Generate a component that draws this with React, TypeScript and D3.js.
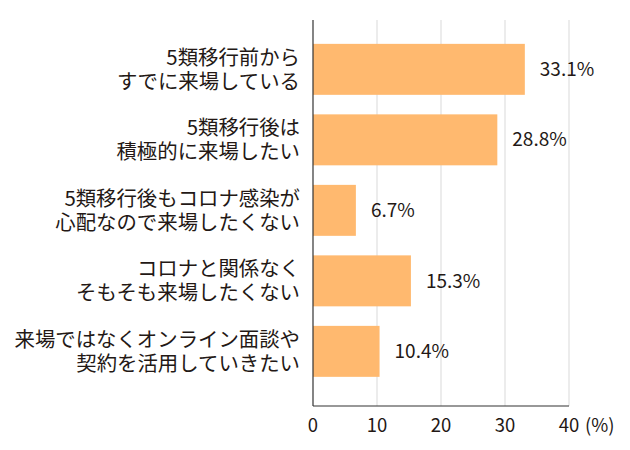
import React, { useMemo } from "react";
import * as d3 from "d3";

const WIDTH = 630;
const HEIGHT = 450;
const MARGIN = { top: 20, right: 61, bottom: 44, left: 313 };

const categories = ["c1", "c2", "c3", "c4", "c5"];
const labelLines = [
  ["5類移行前から", "すでに来場している"],
  ["5類移行後は", "積極的に来場したい"],
  ["5類移行後もコロナ感染が", "心配なので来場したくない"],
  ["コロナと関係なく", "そもそも来場したくない"],
  ["来場ではなくオンライン面談や", "契約を活用していきたい"],
];
const values = [33.1, 28.8, 6.7, 15.3, 10.4];
const xTicks = [0, 10, 20, 30, 40];

const FONT = "'Noto Sans CJK JP', 'Noto Sans', sans-serif";
const TEXT = "#231815";

const App = () => {
  const boundsWidth = WIDTH - MARGIN.left - MARGIN.right;
  const boundsHeight = HEIGHT - MARGIN.top - MARGIN.bottom;

  const xScale = useMemo(
    () => d3.scaleLinear().domain([0, 40]).range([0, boundsWidth]),
    [boundsWidth]
  );
  const yScale = useMemo(
    () =>
      d3
        .scaleBand()
        .domain(categories)
        .range([0, boundsHeight])
        .paddingInner(0.277)
        .paddingOuter(0.376)
        .align(0.45),
    [boundsHeight]
  );

  return (
    <svg width={WIDTH} height={HEIGHT} style={{ position: "absolute", left: 0, top: 0 }}>
      <rect width={WIDTH} height={HEIGHT} fill="#fff" />
      <g transform={`translate(${MARGIN.left},${MARGIN.top})`}>
        {/* grid */}
        {xTicks.slice(1).map((t) => (
          <line
            key={t}
            x1={xScale(t)}
            x2={xScale(t)}
            y1={0}
            y2={boundsHeight}
            stroke="#d9d9d9"
            strokeWidth={1}
          />
        ))}
        {/* bars */}
        {categories.map((c, i) => (
          <rect
            key={c}
            x={0}
            y={yScale(c)}
            width={xScale(values[i])}
            height={yScale.bandwidth()}
            fill="#FFB96F"
          />
        ))}
        {/* value labels */}
        {categories.map((c, i) => (
          <text
            key={c}
            x={xScale(values[i]) + 15}
            y={(yScale(c) || 0) + yScale.bandwidth() / 2}
            dy="0.35em"
            fontFamily={FONT}
            fontSize={19}
            fill={TEXT}
          >
            {values[i].toFixed(1)}%
          </text>
        ))}
        {/* category labels, two lines each */}
        {categories.map((c, i) => {
          const cy = (yScale(c) || 0) + yScale.bandwidth() / 2;
          return (
            <g key={c}>
              <text
                x={-13}
                y={cy - 12}
                dy="0.36em"
                textAnchor="end"
                fontFamily={FONT}
                fontSize={20.4}
                fill={TEXT}
              >
                {labelLines[i][0]}
              </text>
              <text
                x={-13}
                y={cy + 12}
                dy="0.36em"
                textAnchor="end"
                fontFamily={FONT}
                fontSize={20.4}
                fill={TEXT}
              >
                {labelLines[i][1]}
              </text>
            </g>
          );
        })}
        {/* axes */}
        <line x1={0} x2={0} y1={0} y2={boundsHeight} stroke="#333" strokeWidth={1.2} />
        <line x1={0} x2={boundsWidth} y1={boundsHeight} y2={boundsHeight} stroke="#333" strokeWidth={1.2} />
        {xTicks.map((t) => (
          <text
            key={t}
            x={xScale(t)}
            y={boundsHeight + 20}
            dy="0.35em"
            textAnchor="middle"
            fontFamily={FONT}
            fontSize={18.5}
            fill={TEXT}
          >
            {t}
          </text>
        ))}
        <text
          x={xScale(40) + 16}
          y={boundsHeight + 20}
          dy="0.35em"
          fontFamily={FONT}
          fontSize={18.5}
          fill={TEXT}
        >
          (%)
        </text>
      </g>
    </svg>
  );
};

export default App;
